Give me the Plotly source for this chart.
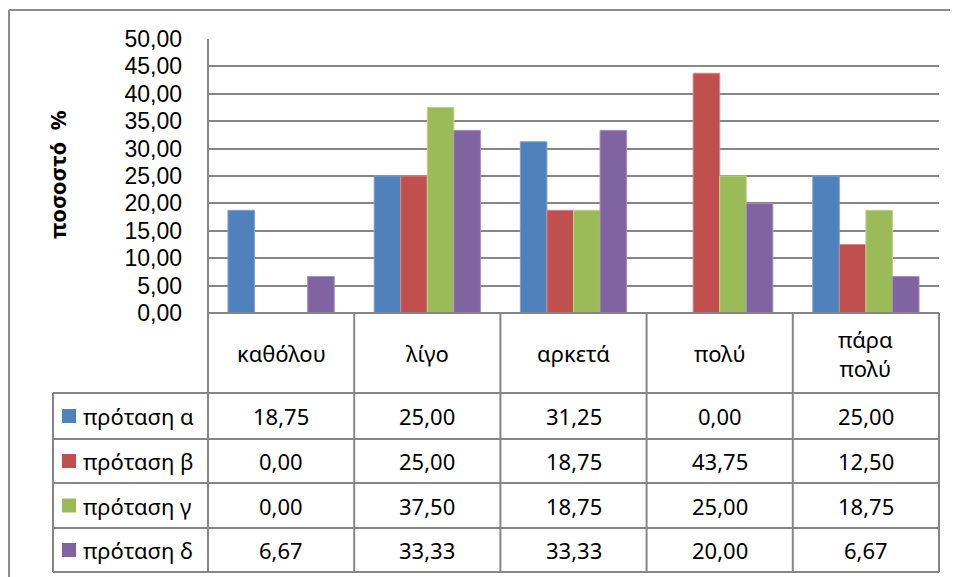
import plotly.graph_objects as go

# ---- data ----
categories = ["καθόλου", "λίγο", "αρκετά", "πολύ", "πάρα πολύ"]
category_labels = ["καθόλου", "λίγο", "αρκετά", "πολύ", "πάρα<br>πολύ"]
series_names = ["πρόταση α", "πρόταση β", "πρόταση γ", "πρόταση δ"]
protasi_a = [18.75, 25.00, 31.25, 0.00, 25.00]
protasi_b = [0.00, 25.00, 18.75, 43.75, 12.50]
protasi_c = [0.00, 37.50, 18.75, 25.00, 18.75]
protasi_d = [6.67, 33.33, 33.33, 20.00, 6.67]
y_tick_values = [0, 5, 10, 15, 20, 25, 30, 35, 40, 45, 50]
y_title = "ποσοστό  %"

series_values = [protasi_a, protasi_b, protasi_c, protasi_d]
colors = ["#4F81BD", "#C0504D", "#9BBB59", "#8064A2"]
edge_colors = ["#7FA3D0", "#D88784", "#BCD38F", "#A38FBF"]

FONT = "Noto Sans"
TICK_FONT = "Liberation Sans"
OFF = 8                      # page body margin offset
W, H = 958 - OFF, 577 - OFF
PL, PR, PT, PB = 208, 939, 39, 313   # plot area in window pixels
GRID = "#868686"


def px_x(x):
    return (x - PL) / (PR - PL)


def px_y(y):
    return (PB - y) / (PB - PT)


fig = go.Figure()
for name, vals, c, ec in zip(series_names, series_values, colors, edge_colors):
    fig.add_trace(go.Bar(
        x=categories, y=vals, name=name,
        marker=dict(color=c, line=dict(color=ec, width=1)),
        showlegend=False,
    ))

shapes = []
annotations = []

def line(x0, y0, x1, y1, color=GRID, width=2):
    shapes.append(dict(type="line", xref="paper", yref="paper",
                       x0=px_x(x0), y0=px_y(y0), x1=px_x(x1), y1=px_y(y1),
                       line=dict(color=color, width=width), layer="above"))

# outer chart border (cropped on right and bottom)
line(9, 10, 9, 580, color="#8C8C8C")
line(9, 10, 960, 10, color="#8C8C8C")

# data table grid
row_edges = [313, 393, 439, 483, 528, 572]
legend_left = 53
line(PL, PT, PL, row_edges[-1])                  # left axis line through table
for i, ry in enumerate(row_edges):
    x_start = PL if i == 0 else legend_left
    line(x_start, ry, PR, ry)
line(legend_left, row_edges[1], legend_left, row_edges[-1])
n = len(categories)
for k in range(1, n + 1):
    xk = PL + (PR - PL) * k / n
    line(xk, row_edges[0], xk, row_edges[-1])

TXT = 22
# header: category labels
for k, lab in enumerate(category_labels):
    annotations.append(dict(
        x=categories[k], xref="x", y=px_y((row_edges[0] + row_edges[1]) / 2), yref="paper",
        text=lab, showarrow=False, font=dict(family=FONT, size=TXT, color="#000"),
        xanchor="center", yanchor="middle"))

# rows: legend keys, names and values
for r, (name, vals, c) in enumerate(zip(series_names, series_values, colors)):
    top, bot = row_edges[r + 1], row_edges[r + 2]
    cy = (top + bot) / 2
    shapes.append(dict(type="rect", xref="paper", yref="paper",
                       x0=px_x(62), x1=px_x(76), y0=px_y(cy - 7), y1=px_y(cy + 7),
                       fillcolor=c, line=dict(width=0), layer="above"))
    annotations.append(dict(
        x=px_x(81), xref="paper", y=px_y(cy), yref="paper", text=name,
        showarrow=False, xanchor="left", yanchor="middle",
        font=dict(family=FONT, size=TXT, color="#000")))
    for k, v in enumerate(vals):
        annotations.append(dict(
            x=categories[k], xref="x", y=px_y(cy), yref="paper",
            text=f"{v:.2f}".replace(".", ","), showarrow=False,
            xanchor="center", yanchor="middle",
            font=dict(family=FONT, size=TXT, color="#000")))

# y axis title
annotations.append(dict(
    x=px_x(57), xref="paper", y=px_y(175), yref="paper", text=f"<b>{y_title}</b>",
    textangle=-90, showarrow=False, xanchor="center", yanchor="middle",
    font=dict(family=FONT, size=22, color="#000")))

fig.update_layout(
    width=W, height=H,
    margin=dict(l=PL - OFF, r=958 - PR, t=PT - OFF, b=577 - PB, pad=0),
    paper_bgcolor="white", plot_bgcolor="white",
    separators=",.",
    bargap=0.273, bargroupgap=0, barmode="group",
    shapes=shapes, annotations=annotations,
    xaxis=dict(showticklabels=False, showgrid=False, zeroline=False, showline=False,
               range=[-0.5, n - 0.5]),
    yaxis=dict(range=[0, 50], tickvals=y_tick_values, tickformat=".2f",
               showgrid=True, gridcolor=GRID, gridwidth=2, zeroline=False,
               showline=False, ticks="", ticklabelstandoff=25,
               tickfont=dict(family=TICK_FONT, size=23, color="#000")),
    font=dict(family=FONT),
)

fig.write_html("out.html")
